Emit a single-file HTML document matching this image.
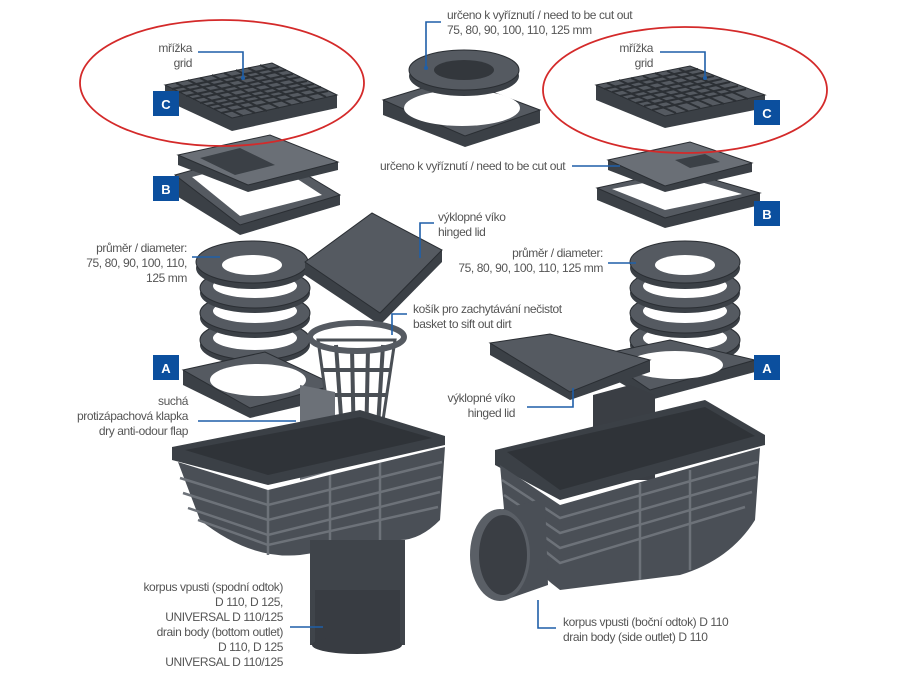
<!DOCTYPE html>
<html><head><meta charset="utf-8"><style>
html,body{margin:0;padding:0;background:#fff;}
svg{display:block}
text{font-family:"Liberation Sans",sans-serif;font-size:12px;letter-spacing:-0.4px;fill:#555;}
.b{fill:#0b4f9e}
.bt{fill:#fff;font-weight:bold;font-size:13px;text-anchor:middle;letter-spacing:0}
.ld{stroke:#1f5fa8;stroke-width:1.6;fill:none}
.dk{fill:#3b4046}
.md{fill:#555a61}
.lt{fill:#6a6f76}
.st{stroke:#2a2e33;stroke-width:1}
</style></head><body>
<svg width="900" height="675" viewBox="0 0 900 675" xmlns="http://www.w3.org/2000/svg">
<!-- ===== LEFT GRID C ===== -->
<polygon class="dk" points="165,85 272,63 337,95 337,108 232,131 165,100"/>
<polygon class="md st" points="165,85 272,63 337,95 232,118"/>
<g stroke="#2c3035" stroke-width="2">
<line x1="176" y1="83" x2="243" y2="116"/><line x1="188" y1="80" x2="255" y2="113"/><line x1="200" y1="78" x2="267" y2="111"/><line x1="212" y1="75" x2="279" y2="108"/><line x1="224" y1="73" x2="291" y2="105"/><line x1="236" y1="70" x2="303" y2="103"/><line x1="248" y1="68" x2="315" y2="100"/><line x1="260" y1="65" x2="326" y2="97"/>
<line x1="172" y1="89" x2="279" y2="67"/><line x1="179" y1="92" x2="286" y2="70"/><line x1="186" y1="96" x2="293" y2="74"/><line x1="193" y1="99" x2="300" y2="77"/><line x1="200" y1="103" x2="307" y2="81"/><line x1="207" y1="106" x2="314" y2="84"/><line x1="214" y1="109" x2="321" y2="87"/><line x1="221" y1="113" x2="328" y2="91"/>
</g>
<!-- ===== RIGHT GRID C ===== -->
<polygon class="dk" points="596,85 690,66 765,95 765,108 665,128 596,100"/>
<polygon class="md st" points="596,85 690,66 765,95 665,116"/>
<g stroke="#2c3035" stroke-width="2">
<line x1="607" y1="83" x2="676" y2="113"/><line x1="619" y1="80" x2="688" y2="111"/><line x1="631" y1="78" x2="700" y2="108"/><line x1="643" y1="76" x2="712" y2="106"/><line x1="655" y1="73" x2="724" y2="104"/><line x1="667" y1="71" x2="736" y2="101"/><line x1="679" y1="69" x2="748" y2="99"/>
<line x1="604" y1="89" x2="698" y2="69"/><line x1="612" y1="92" x2="706" y2="72"/><line x1="620" y1="96" x2="714" y2="76"/><line x1="628" y1="99" x2="722" y2="79"/><line x1="636" y1="103" x2="730" y2="82"/><line x1="644" y1="106" x2="738" y2="86"/><line x1="652" y1="110" x2="746" y2="89"/>
</g>
<!-- ===== TOP MIDDLE ring + frame ===== -->
<polygon class="dk" points="383,100 455,78 540,110 540,123 465,147 383,115"/>
<polygon class="md st" points="383,100 455,78 540,110 465,136"/>
<ellipse cx="462" cy="108" rx="58" ry="18" fill="#fff"/>
<ellipse cx="464" cy="76" rx="55" ry="20" class="dk"/>
<ellipse cx="464" cy="70" rx="55" ry="20" class="md st"/>
<ellipse cx="464" cy="70" rx="30" ry="10" fill="#33373c"/>
<!-- ===== LEFT B frames ===== -->
<polygon class="dk" points="175,175 265,150 340,195 340,205 240,235 175,195"/>
<polygon class="md st" points="175,175 265,150 340,195 240,225"/>
<polygon fill="#fff" points="192,177 265,158 322,195 240,216"/>
<polygon class="dk" points="178,155 270,135 338,162 338,170 248,192 178,165"/>
<polygon class="lt st" points="178,155 270,135 338,162 248,185"/>
<polygon fill="#3b4046" points="200,158 240,148 275,165 235,175"/>
<!-- ===== RIGHT B frames ===== -->
<polygon class="dk" points="597,188 680,170 760,193 760,205 665,228 597,200"/>
<polygon class="md st" points="597,188 680,170 760,193 665,218"/>
<polygon fill="#fff" points="612,189 680,176 742,194 665,210"/>
<polygon class="dk" points="608,160 690,142 752,163 752,172 665,192 608,170"/>
<polygon class="lt st" points="608,160 690,142 752,163 665,186"/>
<polygon fill="#3b4046" points="675,160 705,154 720,162 690,168"/>
<!-- ===== LEFT spring rings ===== -->
<g>
<ellipse cx="255" cy="345" rx="55" ry="20" class="dk"/><ellipse cx="255" cy="340" rx="55" ry="20" class="md st"/><ellipse cx="255" cy="338" rx="42" ry="12" fill="#fff"/>
<ellipse cx="255" cy="318" rx="55" ry="20" class="dk"/><ellipse cx="255" cy="313" rx="55" ry="20" class="md st"/><ellipse cx="255" cy="311" rx="42" ry="12" fill="#fff"/>
<ellipse cx="255" cy="293" rx="55" ry="20" class="dk"/><ellipse cx="255" cy="288" rx="55" ry="20" class="md st"/><ellipse cx="255" cy="286" rx="42" ry="12" fill="#fff"/>
<ellipse cx="252" cy="268" rx="56" ry="21" class="dk"/><ellipse cx="252" cy="262" rx="56" ry="21" class="md st"/><ellipse cx="252" cy="265" rx="30" ry="10" fill="#fff"/>
</g>
<!-- left A frame -->
<polygon class="dk" points="183,370 265,352 335,385 335,398 250,418 183,385"/>
<polygon class="md st" points="183,370 265,352 335,385 250,408"/>
<ellipse cx="258" cy="380" rx="48" ry="16" fill="#fff"/>
<!-- hinged lid -->
<polygon class="dk" points="305,262 372,213 442,250 442,262 380,325 305,275"/>
<polygon class="md st" points="305,262 372,213 442,250 380,313"/>
<!-- basket -->
<g>
<path d="M318,340 L332,440 Q355,455 380,440 L395,340 Z" fill="#fff" stroke="#4a4f55" stroke-width="3"/>
<g stroke="#4a4f55" stroke-width="4"><line x1="336" y1="345" x2="343" y2="445"/><line x1="352" y1="348" x2="354" y2="448"/><line x1="368" y1="348" x2="366" y2="448"/><line x1="383" y1="345" x2="377" y2="443"/>
<line x1="323" y1="370" x2="390" y2="370"/><line x1="326" y1="395" x2="387" y2="395"/><line x1="329" y1="420" x2="384" y2="420"/></g>
<ellipse cx="357" cy="337" rx="47" ry="14" fill="none" stroke="#555a61" stroke-width="6"/>
</g>
<!-- left body -->
<polygon points="300,385 335,392 335,470 300,480" fill="#6c7178"/>
<polygon class="dk" points="172,447 360,410 445,436 445,445 268,485 172,460"/>
<polygon fill="#2f3338" points="185,450 360,417 432,438 268,475"/>
<path d="M178,462 L268,490 L445,447 L440,520 Q420,540 400,540 L300,555 Q250,560 200,520 Z" fill="#4a4f56"/>
<g stroke="#6d7279" stroke-width="2.5" fill="none">
<path d="M180,478 L268,505 L442,462"/><path d="M183,493 L268,520 L441,477"/><path d="M188,508 L268,535 L440,492"/><path d="M198,520 L268,545 L438,507"/>
<line x1="268" y1="490" x2="268" y2="555"/><line x1="330" y1="475" x2="330" y2="550"/><line x1="380" y1="463" x2="380" y2="540"/></g>
<rect x="310" y="540" width="95" height="105" fill="#3f444a"/>
<rect x="315" y="590" width="85" height="55" fill="#383c42"/>
<ellipse cx="357" cy="645" rx="45" ry="9" fill="#383c42"/>
<!-- ===== RIGHT side ===== -->
<ellipse cx="685" cy="345" rx="55" ry="20" class="dk"/><ellipse cx="685" cy="340" rx="55" ry="20" class="md st"/><ellipse cx="685" cy="338" rx="42" ry="12" fill="#fff"/>
<ellipse cx="685" cy="318" rx="55" ry="20" class="dk"/><ellipse cx="685" cy="313" rx="55" ry="20" class="md st"/><ellipse cx="685" cy="311" rx="42" ry="12" fill="#fff"/>
<ellipse cx="685" cy="293" rx="55" ry="20" class="dk"/><ellipse cx="685" cy="288" rx="55" ry="20" class="md st"/><ellipse cx="685" cy="286" rx="42" ry="12" fill="#fff"/>
<ellipse cx="685" cy="268" rx="55" ry="21" class="dk"/><ellipse cx="685" cy="262" rx="55" ry="21" class="md st"/><ellipse cx="685" cy="265" rx="30" ry="10" fill="#fff"/>
<polygon class="dk" points="598,355 670,340 755,360 755,372 650,400 598,370"/>
<polygon class="md st" points="598,355 670,340 755,360 650,390"/>
<ellipse cx="675" cy="365" rx="48" ry="14" fill="#fff"/>
<polygon class="dk" points="490,343 550,334 650,360 650,372 570,400 490,355"/>
<polygon class="md st" points="490,343 550,334 650,360 570,392"/>
<polygon points="593,395 630,385 655,395 655,480 593,480" fill="#3a3e44"/>
<polygon class="dk" points="495,450 705,400 765,435 765,445 560,500 495,465"/>
<polygon fill="#2f3338" points="507,452 705,407 755,436 560,490"/>
<path d="M500,465 L560,505 L760,448 L755,520 Q730,560 680,575 L560,590 Q520,560 505,520 Z" fill="#4a4f56"/>
<g stroke="#6d7279" stroke-width="2.5" fill="none">
<path d="M502,480 L560,518 L758,462"/><path d="M504,495 L560,533 L756,477"/><path d="M507,510 L560,548 L752,492"/><path d="M512,525 L560,563 L745,507"/>
<line x1="640" y1="483" x2="640" y2="580"/><line x1="690" y1="470" x2="690" y2="570"/></g>
<path d="M500,510 L545,498 L548,585 L505,600 Z" fill="#4a4f56"/>
<ellipse cx="500" cy="555" rx="30" ry="46" fill="#5a5f66"/>
<ellipse cx="503" cy="555" rx="24" ry="40" fill="#3a3e44"/>
<!-- ===== red ellipses ===== -->
<ellipse cx="222" cy="83" rx="142" ry="63" fill="none" stroke="#d42a2a" stroke-width="1.8"/>
<ellipse cx="685" cy="90" rx="142" ry="63" fill="none" stroke="#d42a2a" stroke-width="1.8"/>
<!-- ===== badges ===== -->
<rect class="b" x="153" y="91" width="26" height="25"/><text class="bt" x="166" y="109">C</text>
<rect class="b" x="754" y="100" width="26" height="25"/><text class="bt" x="767" y="118">C</text>
<rect class="b" x="153" y="176" width="26" height="25"/><text class="bt" x="166" y="194">B</text>
<rect class="b" x="754" y="201" width="26" height="25"/><text class="bt" x="767" y="219">B</text>
<rect class="b" x="153" y="355" width="26" height="25"/><text class="bt" x="166" y="373">A</text>
<rect class="b" x="754" y="355" width="26" height="25"/><text class="bt" x="767" y="373">A</text>
<!-- ===== leaders ===== -->
<path class="ld" d="M198,52 H243 V78"/><circle cx="243" cy="78" r="2" fill="#1f5fa8"/>
<path class="ld" d="M660,52 H705 V78"/><circle cx="705" cy="78" r="2" fill="#1f5fa8"/>
<path class="ld" d="M441,22 H426 V68"/><circle cx="426" cy="68" r="2" fill="#1f5fa8"/>
<path class="ld" d="M572,166 H620"/>
<path class="ld" d="M192,257 H220"/>
<path class="ld" d="M434,223 H420 V258"/>
<path class="ld" d="M407,314 H392 V335"/>
<path class="ld" d="M608,263 H636"/>
<path class="ld" d="M198,421 H296"/>
<path class="ld" d="M527,407 H573 V388"/>
<path class="ld" d="M290,627 H323"/>
<path class="ld" d="M538,600 V628 H556"/>
<!-- ===== labels ===== -->
<g text-anchor="end">
<text x="192" y="52">mřížka</text><text x="192" y="67">grid</text>
<text x="653" y="52">mřížka</text><text x="653" y="67">grid</text>
<text x="187" y="252">průměr / diameter:</text><text x="187" y="267">75, 80, 90, 100, 110,</text><text x="187" y="282">125 mm</text>
<text x="603" y="257">průměr / diameter:</text><text x="603" y="272">75, 80, 90, 100, 110, 125 mm</text>
<text x="188" y="405">suchá</text><text x="188" y="420">protizápachová klapka</text><text x="188" y="435">dry anti-odour flap</text>
<text x="515" y="402">výklopné víko</text><text x="515" y="417">hinged lid</text>
<text x="283" y="591">korpus vpusti (spodní odtok)</text><text x="283" y="606">D 110, D 125,</text><text x="283" y="621">UNIVERSAL D 110/125</text><text x="283" y="636">drain body (bottom outlet)</text><text x="283" y="651">D 110, D 125</text><text x="283" y="666">UNIVERSAL D 110/125</text>
</g>
<text x="447" y="19">určeno k vyříznutí / need to be cut out</text><text x="447" y="34">75, 80, 90, 100, 110, 125 mm</text>
<text x="380" y="170">určeno k vyříznutí / need to be cut out</text>
<text x="438" y="221">výklopné víko</text><text x="438" y="236">hinged lid</text>
<text x="413" y="313">košík pro zachytávání nečistot</text><text x="413" y="328">basket to sift out dirt</text>
<text x="563" y="626">korpus vpusti (boční odtok) D 110</text><text x="563" y="641">drain body (side outlet) D 110</text>
</svg>
</body></html>
